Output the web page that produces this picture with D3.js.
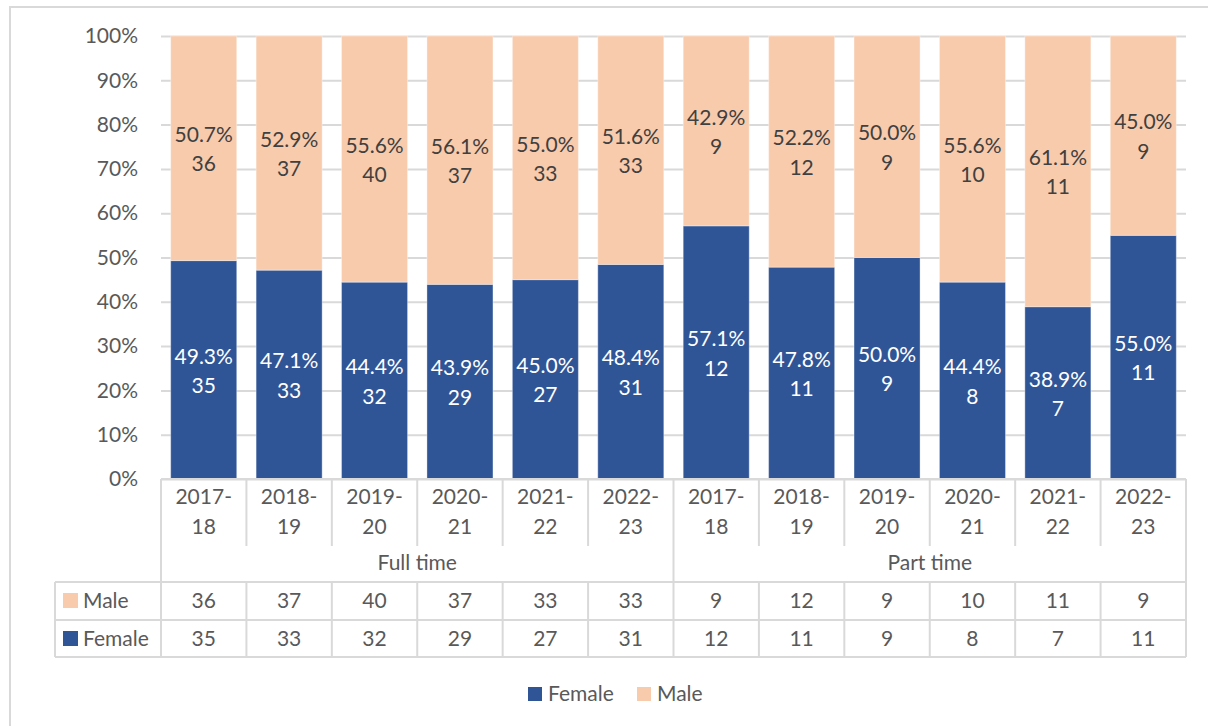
<!DOCTYPE html>
<html>
<head>
<meta charset="utf-8">
<script src="https://cdn.jsdelivr.net/npm/d3@7"></script>
<style>
  body { margin: 0; background: #fff; }
  svg { display: block; font-family: Lato, "Open Sans", sans-serif; }
</style>
</head>
<body>
<div id="chart"></div>
<script>
// chart values
var groups = ["Full time", "Part time"];
var years = ["2017-18", "2018-19", "2019-20", "2020-21", "2021-22", "2022-23"];
var maleFullTime = [36, 37, 40, 37, 33, 33];
var femaleFullTime = [35, 33, 32, 29, 27, 31];
var malePartTime = [9, 12, 9, 10, 11, 9];
var femalePartTime = [12, 11, 9, 8, 7, 11];
var yTicks = [0, 0.1, 0.2, 0.3, 0.4, 0.5, 0.6, 0.7, 0.8, 0.9, 1];

var colors = { Female: "#2F5597", Male: "#F8CBAD" };
var textGray = "#595959",
    lineGray = "#D9D9D9",
    fontSize = "21px";

// one row per bar
var rows = [];
groups.forEach(function(g, gi) {
    var male = gi === 0 ? maleFullTime : malePartTime,
        female = gi === 0 ? femaleFullTime : femalePartTime;
    years.forEach(function(y, i) {
        rows.push({ group: g, year: y, Male: male[i], Female: female[i], key: g + "|" + y });
    });
});

var W = 1208, H = 726;
var plot = { left: 161, right: 1186, top: 36, bottom: 479 };

var svg = d3.select("#chart").append("svg")
    .attr("width", W)
    .attr("height", H);

// chart frame (partly cropped in the reference)
svg.append("path")
    .attr("d", "M10," + H + "V7H" + W)
    .attr("fill", "none")
    .attr("stroke", lineGray)
    .attr("stroke-width", 2);

var p = 0.227;
var x = d3.scaleBand()
    .domain(rows.map(function(d) { return d.key; }))
    .range([plot.left, plot.right])
    .paddingInner(p)
    .paddingOuter(p / 2);

var y = d3.scaleLinear().domain([0, 1]).range([plot.bottom, plot.top]);

// y axis with gridlines
var yAxis = svg.append("g")
    .attr("transform", "translate(" + plot.left + ",0)")
    .call(d3.axisLeft(y)
        .tickValues(yTicks)
        .tickFormat(d3.format(".0%"))
        .tickSize(-(plot.right - plot.left))
        .tickPadding(23));
yAxis.select(".domain").remove();
yAxis.selectAll(".tick line").attr("stroke", lineGray).attr("stroke-width", 2);
yAxis.selectAll(".tick text")
    .attr("fill", textGray)
    .style("font-size", fontSize)
    .style("font-family", "Lato, sans-serif");

// stacked bars
var stack = d3.stack().keys(["Female", "Male"]).offset(d3.stackOffsetExpand);
var series = stack(rows);

var layers = svg.selectAll("g.layer")
    .data(series)
    .enter().append("g")
    .attr("class", "layer")
    .attr("fill", function(s) { return colors[s.key]; });

layers.selectAll("rect")
    .data(function(s) { return s; })
    .enter().append("rect")
    .attr("x", function(d) { return x(d.data.key); })
    .attr("width", x.bandwidth())
    .attr("y", function(d) { return y(d[1]); })
    .attr("height", function(d) { return y(d[0]) - y(d[1]); })
    .attr("stroke", "#fff")
    .attr("stroke-opacity", 0.35)
    .attr("stroke-width", 1);

// data labels: percentage and count, centred in each segment
series.forEach(function(s) {
    var lbl = svg.append("g")
        .attr("fill", s.key === "Female" ? "#fff" : "#404040")
        .style("font-size", fontSize)
        .attr("text-anchor", "middle");
    s.forEach(function(d) {
        var total = d.data.Female + d.data.Male;
        var pct = (d.data[s.key] / total * 100).toFixed(1) + "%";
        var cy = y((d[0] + d[1]) / 2);
        var cx = x(d.data.key) + x.bandwidth() / 2;
        var t = lbl.append("text").attr("x", cx).attr("y", cy);
        t.append("tspan").attr("x", cx).attr("dy", "-0.3em").text(pct);
        t.append("tspan").attr("x", cx).attr("dy", "1.4em").text(d.data[s.key]);
    });
});

// category table under the axis
var tbl = svg.append("g")
    .attr("stroke", lineGray)
    .attr("stroke-width", 2)
    .attr("fill", "none");

var step = x.step();
var rowTop = 582, rowMid = 620, rowBot = 657, tableLeft = 55;

// axis base line
tbl.append("line").attr("x1", plot.left).attr("x2", plot.right).attr("y1", plot.bottom).attr("y2", plot.bottom);

// dividers between years
rows.forEach(function(d, i) {
    if (i === 0 || i === 6) return;
    var xx = plot.left + i * step;
    tbl.append("line").attr("x1", xx).attr("x2", xx).attr("y1", plot.bottom).attr("y2", 546);
});
// group dividers
[0, 6, 12].forEach(function(i) {
    var xx = plot.left + i * step;
    tbl.append("line").attr("x1", xx).attr("x2", xx).attr("y1", plot.bottom).attr("y2", rowTop);
});

// data table grid
[rowTop, rowMid, rowBot].forEach(function(yy) {
    tbl.append("line").attr("x1", tableLeft).attr("x2", plot.right).attr("y1", yy).attr("y2", yy);
});
tbl.append("line").attr("x1", tableLeft).attr("x2", tableLeft).attr("y1", rowTop).attr("y2", rowBot);
d3.range(13).forEach(function(i) {
    var xx = plot.left + i * step;
    tbl.append("line").attr("x1", xx).attr("x2", xx).attr("y1", rowTop).attr("y2", rowBot);
});

var txt = svg.append("g")
    .attr("fill", textGray)
    .style("font-size", fontSize)
    .attr("text-anchor", "middle");

// year labels on two lines
rows.forEach(function(d) {
    var cx = x(d.key) + x.bandwidth() / 2;
    var parts = d.year.split("-");
    txt.append("text").attr("x", cx).attr("y", 504).text(parts[0] + "-");
    txt.append("text").attr("x", cx).attr("y", 534).text(parts[1]);
});

// group labels
groups.forEach(function(g, gi) {
    var x0 = plot.left + gi * 6 * step,
        x1 = x0 + 6 * step;
    txt.append("text").attr("x", (x0 + x1) / 2).attr("y", 570).text(g);
});

// count rows
var tableRows = [
    { key: "Male", y: rowTop },
    { key: "Female", y: rowMid }
];
tableRows.forEach(function(r) {
    rows.forEach(function(d) {
        txt.append("text")
            .attr("x", x(d.key) + x.bandwidth() / 2)
            .attr("y", r.y + 26)
            .text(d[r.key]);
    });
    svg.append("rect")
        .attr("x", 63).attr("y", r.y + 11)
        .attr("width", 15).attr("height", 15)
        .attr("fill", colors[r.key]);
    svg.append("text")
        .attr("x", 83).attr("y", r.y + 26)
        .attr("fill", textGray)
        .style("font-size", fontSize)
        .text(r.key);
});

// bottom legend
var legend = svg.append("g").attr("transform", "translate(528,686)");
var legendItems = [{ key: "Female", x: 0 }, { key: "Male", x: 109 }];
legendItems.forEach(function(it) {
    legend.append("rect")
        .attr("x", it.x).attr("y", 1)
        .attr("width", 14).attr("height", 14)
        .attr("fill", colors[it.key]);
    legend.append("text")
        .attr("x", it.x + 20).attr("y", 15)
        .attr("fill", textGray)
        .style("font-size", fontSize)
        .text(it.key);
});
</script>
</body>
</html>
